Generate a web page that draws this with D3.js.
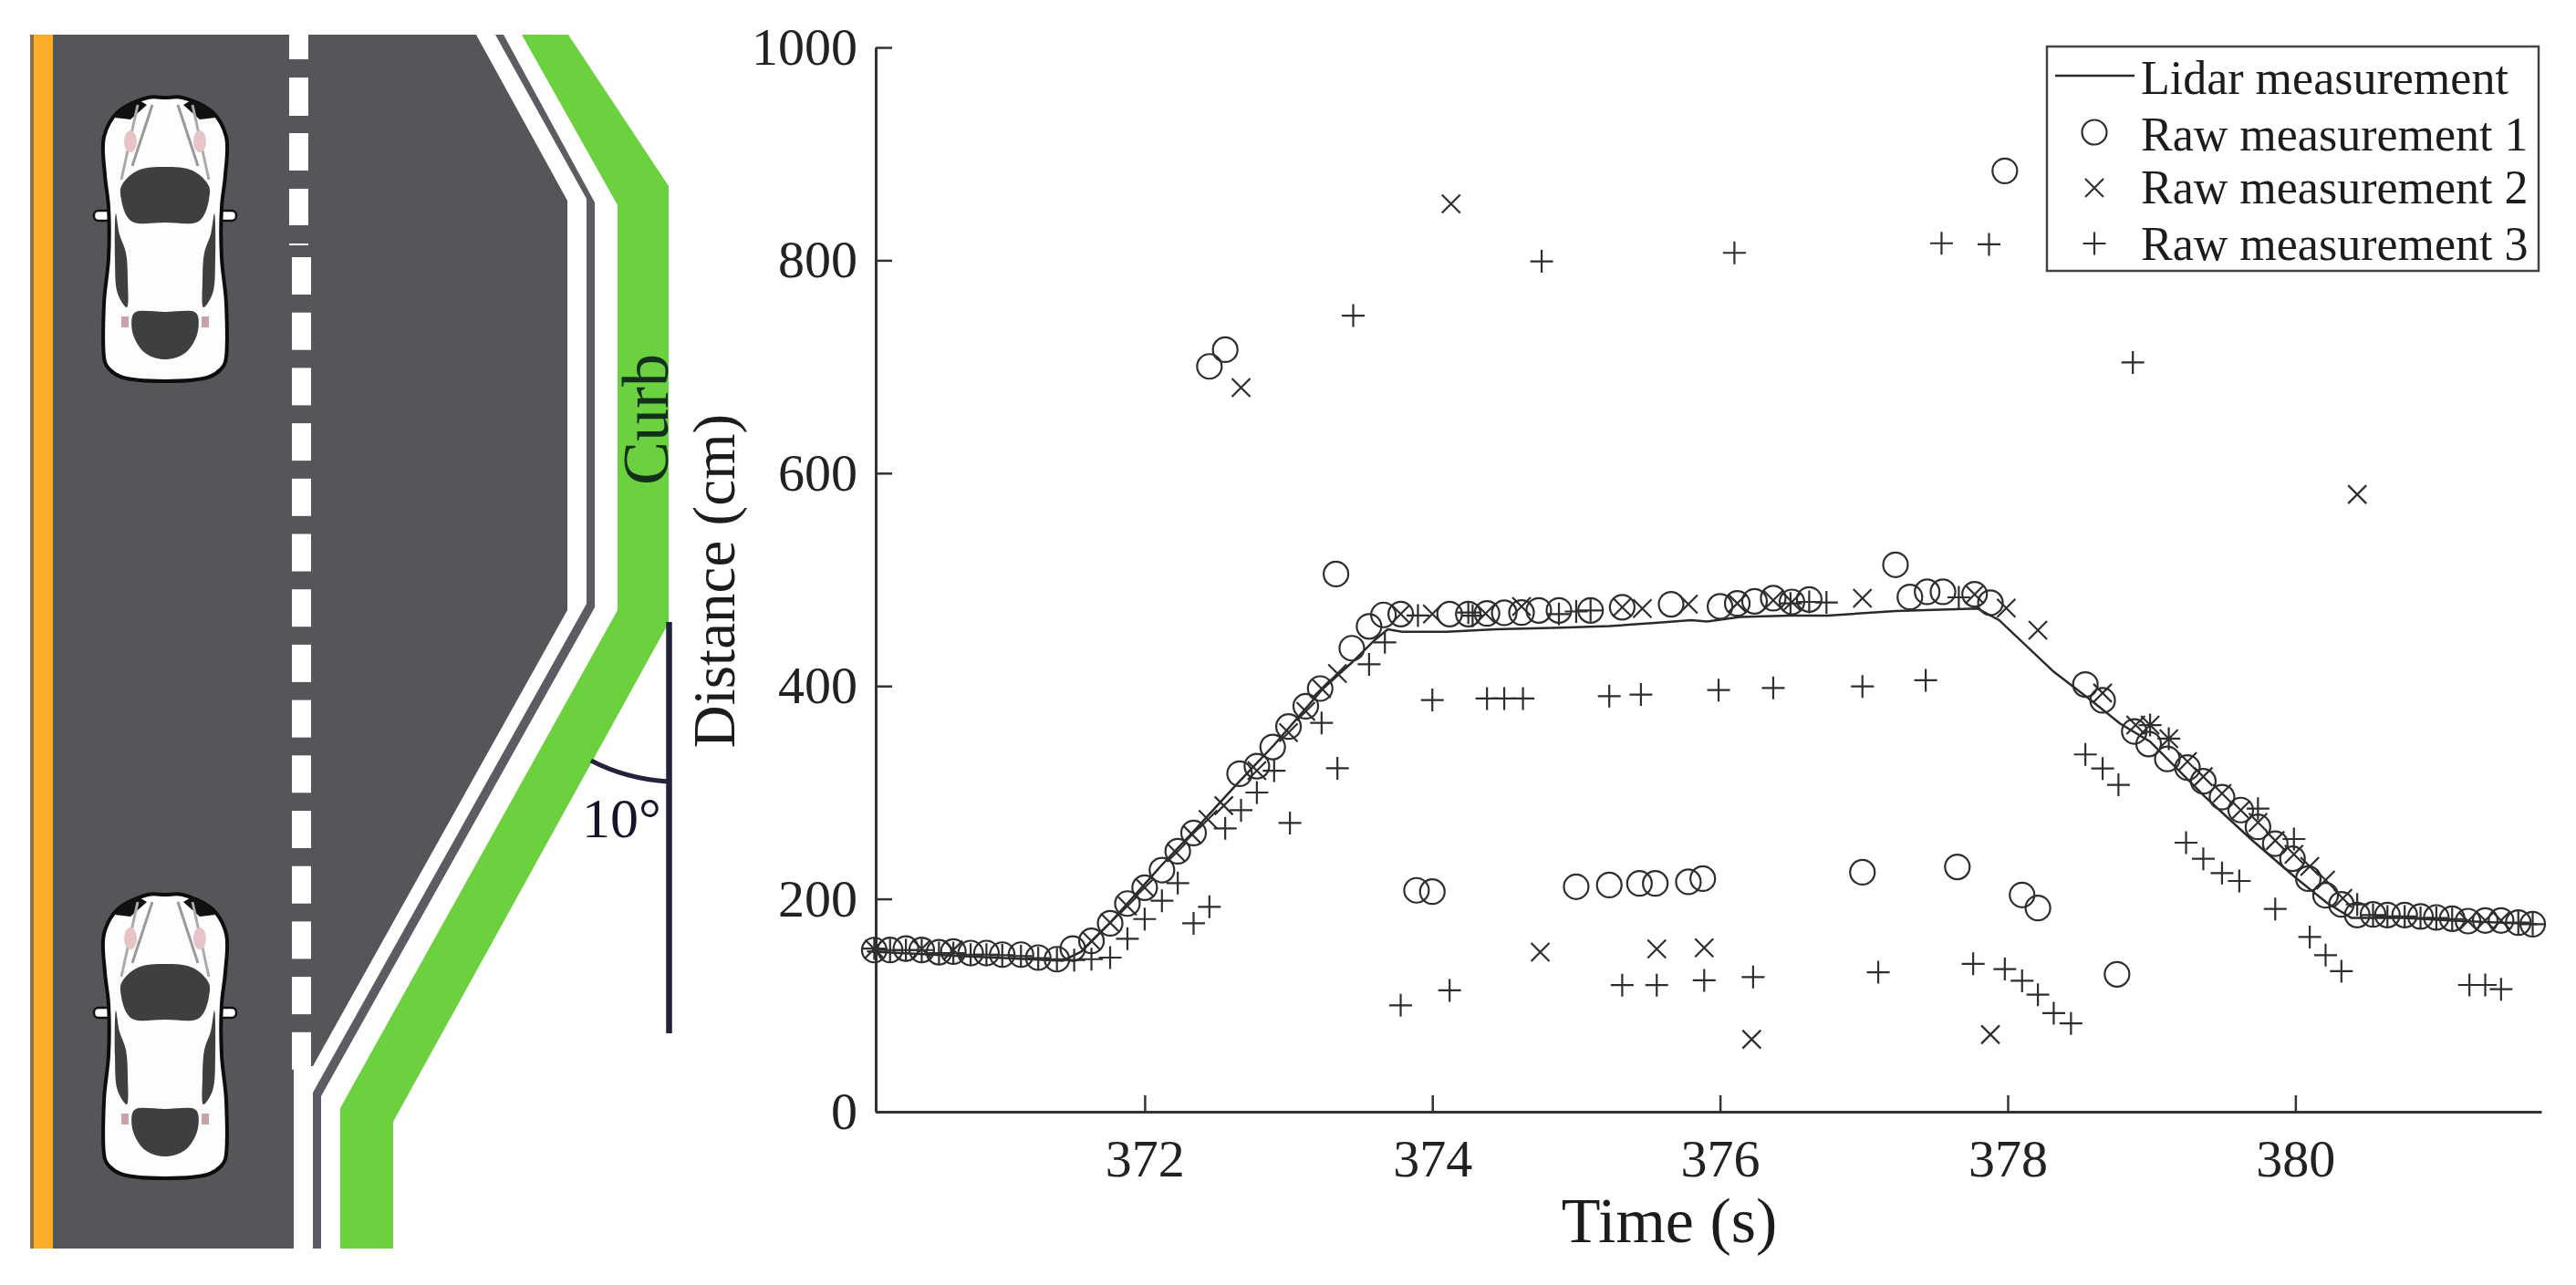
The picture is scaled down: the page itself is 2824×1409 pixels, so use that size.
<!DOCTYPE html>
<html>
<head>
<meta charset="utf-8">
<title>Lidar curb distance</title>
<script src="https://cdn.jsdelivr.net/npm/d3@7"></script>
<style>
  html, body { margin: 0; padding: 0; background: #fff; }
  svg { display: block; }
  text { font-family: "Liberation Serif", serif; fill: #1c1c1c; }
  .chart-axis .domain { stroke: #333; stroke-width: 3; }
  .chart-axis line { stroke: #333; stroke-width: 2.5; }
  .chart-axis text { font-size: 58px; font-family: "Liberation Serif", serif; fill: #222; }
</style>
</head>
<body>
<svg id="figure" width="2824" height="1409" viewBox="0 0 2824 1409"></svg>
<script>
const xTicks = [372, 374, 376, 378, 380];
const yTicks = [0, 200, 400, 600, 800, 1000];
const legendLabels = ['Lidar measurement', 'Raw measurement 1', 'Raw measurement 2', 'Raw measurement 3'];

// [time s, distance cm]
const lidar = [
  [370.07, 150.5], [370.75, 146.2], [371.43, 141.9], [371.56, 150.5], [371.77, 179], [372.11, 230.5],
  [372.33, 261.9], [372.63, 306.2], [372.9, 344.7], [373.24, 397.6], [373.44, 422], [373.6, 443.3],
  [373.69, 453.3], [373.79, 451], [374.1, 451], [374.44, 453.3], [374.89, 454.8], [375.23, 456.2],
  [375.57, 459.6], [375.8, 461.9], [375.91, 460.5], [376.14, 464.8], [376.48, 466.2], [376.75, 466.2],
  [377.22, 470.5], [377.79, 472.8], [377.94, 461.9], [378.32, 413.4], [378.57, 387.6], [378.78, 364.8],
  [378.99, 347.7], [379.37, 296.2], [379.69, 256.2], [380.01, 219], [380.22, 196.2], [380.39, 182],
  [380.75, 182], [381.17, 179.1], [381.68, 176.2]
];

const raw1 = [
  [370.12, 151.9], [370.23, 152], [370.34, 153.3], [370.45, 152], [370.57, 149.9], [370.67, 150.5],
  [370.79, 149.1], [370.9, 149.1], [371.01, 147.6], [371.14, 147.6], [371.26, 144.8], [371.39, 143.3],
  [371.5, 153.3], [371.63, 160.5], [371.76, 177], [371.88, 195.6], [372, 210.5], [372.12, 227],
  [372.23, 244.7], [372.34, 261.9], [372.66, 317.6], [372.78, 324.7], [372.89, 342.7], [373, 361.9],
  [373.12, 381], [373.22, 397.6], [373.44, 435.5], [373.56, 456], [373.66, 466.8], [373.78, 467.6],
  [374.12, 467.6], [374.25, 467.6], [374.38, 468.2], [374.5, 468.8], [374.62, 469], [374.74, 471],
  [374.88, 471], [375.1, 471], [375.32, 474], [375.66, 476.8], [376, 474.8], [376.12, 477.6],
  [376.24, 479.6], [376.37, 482.5], [376.5, 479], [376.62, 481.3], [377.32, 483.6], [377.44, 488.5],
  [377.55, 488.5], [377.77, 486.2], [377.88, 478.2], [378.54, 401.4], [378.66, 386.5], [378.88, 357.3],
  [378.98, 345.5], [379.11, 331.5], [379.25, 323.3], [379.36, 310.5], [379.49, 295.6], [379.62, 283.4],
  [379.74, 267.6], [379.86, 251.9], [379.98, 237.7], [380.09, 219], [380.21, 203.4], [380.32, 194.8],
  [380.43, 184.8], [380.54, 185.4], [380.64, 184.8], [380.76, 184.8], [380.87, 183.4], [380.98, 182.5],
  [381.09, 181.4], [381.2, 179.1], [381.32, 179.7], [381.43, 179.7], [381.55, 177.7], [381.65, 176.2],
  [372.45, 700.3], [372.56, 716], [373.33, 505.2], [377.22, 513.9], [377.98, 884], [378.76, 129.1],
  [373.89, 208], [374, 206.8], [375, 211.4], [375.23, 213], [375.44, 214.5], [375.55, 214.5],
  [375.78, 216], [375.88, 219], [376.99, 225], [377.65, 230], [378.1, 203.7], [378.21, 191.4]
];

const raw2 = [
  [370.12, 153], [370.45, 153], [370.67, 152], [371.63, 160.5], [371.76, 177.6], [371.88, 193.3],
  [372, 210.5], [372.22, 243.3], [372.33, 260.4], [372.44, 274.7], [372.55, 287.6], [372.78, 320.4],
  [373, 356.2], [373.12, 376.1], [373.23, 397.6], [373.34, 411.8], [373.78, 467.6], [374, 467.6],
  [374.37, 468], [374.62, 474.8], [375.32, 474], [375.46, 472.8], [375.78, 476.8], [376.12, 477.6],
  [376.37, 480.5], [376.5, 479], [376.99, 482.5], [377.77, 486], [377.99, 473.3], [378.21, 452.5],
  [378.66, 393.4], [378.89, 363.3], [378.99, 363.3], [379.12, 350.5], [379.25, 329], [379.36, 314.8],
  [379.49, 299], [379.62, 283.4], [379.74, 271.9], [379.86, 254.8], [379.99, 241.9], [380.1, 230.5],
  [380.21, 217.7], [380.33, 200.5], [381.2, 179.1], [381.32, 179.7], [381.43, 179.7], [372.67, 680.3],
  [374.13, 853], [380.43, 580], [376.22, 68], [377.88, 72.5], [374.75, 150], [375.56, 153], [375.89, 154]
];

const raw3 = [
  [370.12, 153.3], [370.23, 151.9], [370.34, 151.9], [370.45, 151.9], [370.57, 149], [370.67, 149],
  [370.79, 147.6], [370.9, 147.6], [371.01, 147], [371.14, 146.2], [371.26, 144.2], [371.39, 143.3],
  [371.51, 142.5], [371.63, 143.3], [371.76, 144.8], [371.88, 162.5], [372, 181], [372.12, 198.2],
  [372.23, 214.8], [372.34, 177], [372.45, 192.5], [372.56, 266.2], [372.67, 283.3], [372.78, 299.9],
  [372.9, 320.4], [373.01, 271.3], [373.23, 365.3], [373.34, 322.7], [373.56, 420.4], [373.67, 441],
  [373.9, 466.2], [374.25, 469], [374.28, 466], [374.88, 467.6], [375, 470], [375.1, 471],
  [376.49, 477.6], [376.62, 479], [376.74, 478.5], [374, 386.8], [374.38, 388.2], [374.5, 388.2],
  [374.63, 388.2], [375.23, 390.5], [375.45, 392], [375.99, 396.2], [376.37, 398.2], [376.99, 399.6],
  [377.43, 405.4], [377.66, 483.3], [378.54, 335.7], [378.66, 322.5], [378.77, 307.1], [378.99, 363.3],
  [379.12, 350.5], [379.74, 284.8], [379.99, 256.2], [380.43, 194.8], [380.54, 184.8], [380.64, 183.4],
  [380.76, 183.4], [380.87, 182], [380.98, 182], [381.09, 181], [381.55, 177.7], [381.65, 176.2],
  [379.24, 252.8], [379.36, 237.6], [379.49, 224.2], [379.61, 216.8], [379.86, 190.5], [380.1, 164.2],
  [380.21, 147.1], [380.32, 132], [381.21, 119.1], [381.32, 119.1], [381.43, 115.1], [373.45, 748],
  [374.76, 799], [376.1, 807], [377.54, 816], [377.87, 815], [378.87, 704], [373.78, 100],
  [374.12, 114], [375.32, 119], [375.56, 119], [375.89, 123.5], [376.23, 126.5], [377.1, 131],
  [377.76, 139], [377.98, 134], [378.1, 123], [378.21, 110], [378.32, 92.6], [378.44, 83]
];

const svg = d3.select('#figure');

// road sketch on the left
const road = svg.append('g').attr('class', 'road');
const polyPath = (pts) => d3.line()(pts) + 'Z';
const roadBottom = 1369;

road.append('path')
  .attr('d', polyPath([[33, 38], [522, 38], [622, 220], [622, 669], [343, 1169], [322, 1169], [322, roadBottom], [33, roadBottom]]))
  .attr('fill', '#55565a');
road.append('rect').attr('x', 33).attr('y', 38).attr('width', 25).attr('height', roadBottom - 38).attr('fill', '#8a6f4a');
road.append('rect').attr('x', 37).attr('y', 38).attr('width', 21).attr('height', roadBottom - 38).attr('fill', '#fdae26');

// thin grey edge line right of the road
road.append('path')
  .attr('d', polyPath([[543, 38], [552, 38], [652, 222], [652, 666], [352, 1202], [352, roadBottom], [343, roadBottom], [343, 1198], [643, 662], [643, 218]]))
  .attr('fill', '#5c5d62');

// curb strip
road.append('path')
  .attr('d', polyPath([[572, 38], [623, 38], [733, 204], [733, 683], [431, 1230], [431, roadBottom], [373, roadBottom], [373, 1215], [677, 669], [677, 225]]))
  .attr('fill', '#6cd13f');

// lane dashes
const dashTop = [[317, 38, 27], [317, 85, 42], [317, 146, 41], [317, 207, 40], [317, 267, 2]];
dashTop.forEach(([x, y, h]) => {
  road.append('rect').attr('x', x).attr('y', y).attr('width', 21).attr('height', h).attr('fill', '#fff');
});
d3.range(15).forEach((i) => {
  road.append('rect').attr('x', 320).attr('y', 282 + i * 60.7).attr('width', 21).attr('height', 41).attr('fill', '#fff');
});

// angle marker
road.append('line').attr('x1', 733.5).attr('x2', 733.5).attr('y1', 682).attr('y2', 1133)
  .attr('stroke', '#22233a').attr('stroke-width', 6.5);
road.append('path').attr('d', 'M648,834 Q686,854 733,857').attr('fill', 'none')
  .attr('stroke', '#22233a').attr('stroke-width', 5);
road.append('text').attr('x', 638).attr('y', 918).attr('font-size', 62).style('fill', '#14142a').text('10°');
road.append('text').attr('transform', 'translate(732,460) rotate(-90)').attr('text-anchor', 'middle')
  .attr('font-size', 72).style('fill', '#12301a').text('Curb');

// car drawn in local coords, x = 0 is its centre line, y = 0 its nose
function drawCar(cx, top) {
  const g = road.append('g').attr('transform', `translate(${cx},${top})`);
  const smooth = d3.line().curve(d3.curveCatmullRomClosed.alpha(0.5));
  const mirror = (pts) => pts.map(([x, y]) => [-x, y]);

  [1, -1].forEach((side) => {
    g.append('rect').attr('x', side > 0 ? 58 : -78).attr('y', 124).attr('width', 20).attr('height', 11)
      .attr('rx', 5).attr('fill', '#fff').attr('stroke', '#111').attr('stroke-width', 2.5);
  });

  const half = [[0, 0], [19, 0], [52, 16], [67, 43], [66, 85], [62, 120], [62, 176], [67, 226], [66, 290], [61, 298], [49, 306], [0, 311]];
  const body = half.concat(mirror(half.slice(1, -1)).reverse());
  g.append('path').attr('d', smooth(body)).attr('fill', '#fdfdfd').attr('stroke', '#0d0d0d').attr('stroke-width', 4);

  const windshieldHalf = [[0, 76], [30, 80], [48, 97], [48, 112], [42, 130], [34, 137], [0, 137]];
  const windshield = windshieldHalf.concat(mirror(windshieldHalf.slice(1, -1)).reverse());
  g.append('path').attr('d', smooth(windshield)).attr('fill', '#3f3f41');
  const rearHalf = [[0, 287], [22, 280], [35, 260], [36, 240], [32, 235], [0, 235]];
  const rear = rearHalf.concat(mirror(rearHalf.slice(1, -1)).reverse());
  g.append('path').attr('d', smooth(rear)).attr('fill', '#3f3f41');

  [1, -1].forEach((side) => {
    const flip = (pts) => pts.map(([x, y]) => [x * side, y]);
    g.append('path').attr('d', smooth(flip([[54, 127], [50, 150], [43, 170], [41, 200], [42, 230], [52, 215], [55, 177]]))).attr('fill', '#3f3f41');
    g.append('path').attr('d', polyPath(flip([[48, 12], [30, 2], [20, 8], [38, 24], [55, 22]]))).attr('fill', '#111');
    g.append('path').attr('d', d3.line()(flip([[14, 8], [36, 75]]))).attr('stroke', '#999').attr('stroke-width', 3).attr('fill', 'none');
    g.append('path').attr('d', d3.line()(flip([[30, 8], [48, 90]]))).attr('stroke', '#aaa').attr('stroke-width', 3).attr('fill', 'none');
    g.append('ellipse').attr('cx', 38 * side).attr('cy', 48).attr('rx', 7).attr('ry', 12).attr('fill', '#e8c4c8');
    g.append('rect').attr('x', side > 0 ? 40 : -48).attr('y', 240).attr('width', 8).attr('height', 12).attr('fill', '#c9a3a8');
  });
}
drawCar(181, 107);
drawCar(181, 981);

// chart
const xScale = d3.scaleLinear().domain([370.13, 381.71]).range([960, 2786]);
const yScale = d3.scaleLinear().domain([0, 1000]).range([1219, 52]);
const chartGroup = svg.append('g').attr('class', 'chart');

const xAxis = d3.axisBottom(xScale).tickValues(xTicks).tickSizeInner(-18).tickSizeOuter(0).tickPadding(30).tickFormat(d3.format('d'));
const yAxis = d3.axisLeft(yScale).tickValues(yTicks).tickSizeInner(-18).tickSizeOuter(0).tickPadding(20).tickFormat(d3.format('d'));
chartGroup.append('g').attr('class', 'chart-axis').attr('transform', `translate(0,${yScale(0)})`).call(xAxis);
chartGroup.append('g').attr('class', 'chart-axis').attr('transform', `translate(${xScale.range()[0]},0)`).call(yAxis);

chartGroup.append('path').datum(lidar)
  .attr('d', d3.line().x((d) => xScale(d[0])).y((d) => yScale(d[1])))
  .attr('fill', 'none').attr('stroke', '#2a2a2a').attr('stroke-width', 2.5);

const markerStroke = '#2e2e2e';
function addMarkers(parent, data, symbol, size) {
  parent.append('g').selectAll('path').data(data).join('path')
    .attr('transform', (d) => `translate(${xScale(d[0])},${yScale(d[1])})`)
    .attr('d', d3.symbol().type(symbol).size(size))
    .attr('fill', 'none').attr('stroke', markerStroke).attr('stroke-width', 2.2);
}
// + and x are built from the four arms so their span can be set directly
const plusSymbol = { draw(ctx, size) { const r = Math.sqrt(size); ctx.moveTo(-r, 0); ctx.lineTo(r, 0); ctx.moveTo(0, -r); ctx.lineTo(0, r); } };
const crossSymbol = { draw(ctx, size) { const r = Math.sqrt(size); ctx.moveTo(-r, -r); ctx.lineTo(r, r); ctx.moveTo(-r, r); ctx.lineTo(r, -r); } };
const ringSymbol = { draw(ctx, size) { const r = Math.sqrt(size); ctx.moveTo(r, 0); ctx.arc(0, 0, r, 0, 2 * Math.PI); } };

addMarkers(chartGroup, raw1, ringSymbol, 13.5 * 13.5);
addMarkers(chartGroup, raw2, crossSymbol, 10 * 10);
addMarkers(chartGroup, raw3, plusSymbol, 12.5 * 12.5);

chartGroup.append('text').attr('x', 1830).attr('y', 1362).attr('text-anchor', 'middle').attr('font-size', 70).text('Time (s)');
chartGroup.append('text').attr('transform', 'translate(805,637) rotate(-90)').attr('text-anchor', 'middle').attr('font-size', 65).text('Distance (cm)');

// legend
const legend = svg.append('g').attr('class', 'legend');
legend.append('rect').attr('x', 2244).attr('y', 51).attr('width', 539).attr('height', 246)
  .attr('fill', '#fff').attr('stroke', '#444').attr('stroke-width', 2.5);
const legendBaseline = [103, 165, 223, 285];
legendLabels.forEach((label, i) => {
  legend.append('text').attr('x', 2347).attr('y', legendBaseline[i]).attr('font-size', 52).text(label);
});
legend.append('line').attr('x1', 2253).attr('x2', 2340).attr('y1', 83).attr('y2', 83).attr('stroke', '#2a2a2a').attr('stroke-width', 2.5);
const legendKeys = [[ringSymbol, 13.5, 145], [crossSymbol, 10, 206], [plusSymbol, 12.5, 267]];
legendKeys.forEach(([symbol, r, y]) => {
  legend.append('path').attr('transform', `translate(2296,${y})`)
    .attr('d', d3.symbol().type(symbol).size(r * r))
    .attr('fill', 'none').attr('stroke', markerStroke).attr('stroke-width', 2.2);
});
</script>
</body>
</html>
